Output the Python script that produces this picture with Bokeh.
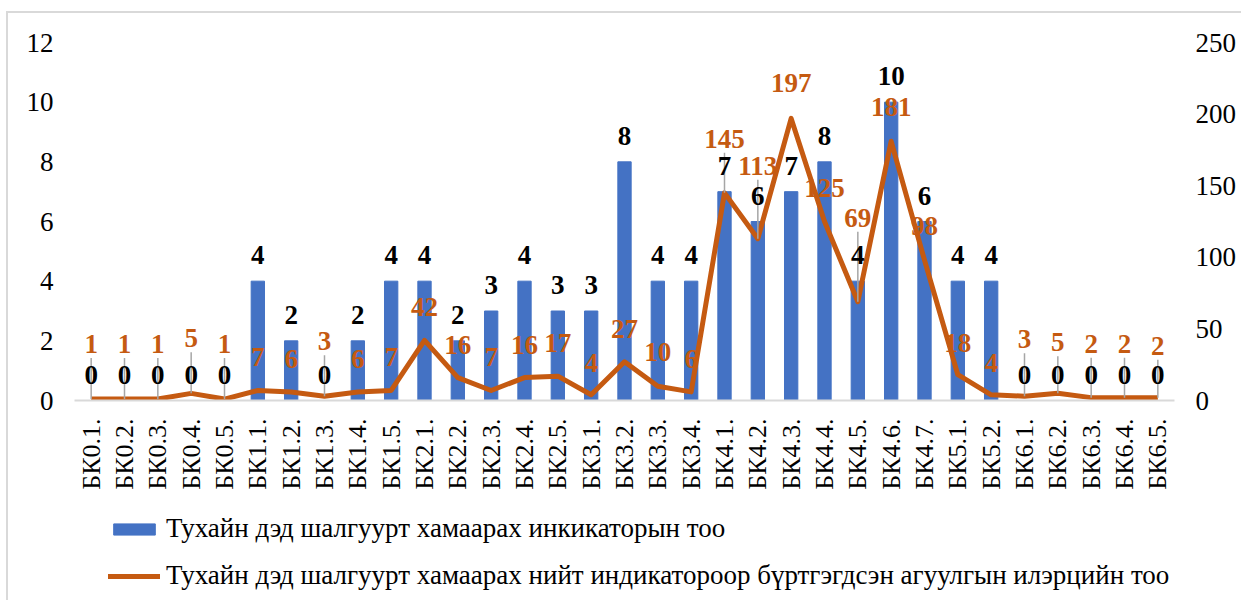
from bokeh.plotting import figure
from bokeh.layouts import column
from bokeh.models import (ColumnDataSource, FactorRange, Range1d, LinearAxis, FixedTicker,
                          LabelSet, Legend, LegendItem)
from bokeh.embed import file_html
from bokeh.resources import INLINE
import math

categories = ["БК0.1.", "БК0.2.", "БК0.3.", "БК0.4.", "БК0.5.",
              "БК1.1.", "БК1.2.", "БК1.3.", "БК1.4.", "БК1.5.",
              "БК2.1.", "БК2.2.", "БК2.3.", "БК2.4.", "БК2.5.",
              "БК3.1.", "БК3.2.", "БК3.3.", "БК3.4.",
              "БК4.1.", "БК4.2.", "БК4.3.", "БК4.4.", "БК4.5.", "БК4.6.", "БК4.7.",
              "БК5.1.", "БК5.2.",
              "БК6.1.", "БК6.2.", "БК6.3.", "БК6.4.", "БК6.5."]
indicators = [0, 0, 0, 0, 0,
              4, 2, 0, 2, 4,
              4, 2, 3, 4, 3,
              3, 8, 4, 4,
              7, 6, 7, 8, 4, 10, 6,
              4, 4,
              0, 0, 0, 0, 0]
findings = [1, 1, 1, 5, 1,
            7, 6, 3, 6, 7,
            42, 16, 7, 16, 17,
            4, 27, 10, 6,
            145, 113, 197, 125, 69, 181, 98,
            18, 4,
            3, 5, 2, 2, 2]
left_ticks = [0, 2, 4, 6, 8, 10, 12]
right_ticks = [0, 50, 100, 150, 200, 250]
bar_name = "Тухайн дэд шалгуурт хамаарах инкикаторын тоо"
line_name = "Тухайн дэд шалгуурт хамаарах нийт индикатороор бүртгэгдсэн агуулгын илэрцийн тоо"

# label placement (screen px above the point), style only
line_label_dy = [55, 55, 55, 55, 55,
                 33, 33, 55, 33, 33,
                 33, 33, 33, 33, 33,
                 32, 33, 34, 33,
                 54, 73, 35, 34, 84, 34, 34,
                 32, 32,
                 57, 51, 54, 54, 52]
BAR_DY = 26
FRAME_H = 358
R_MAX = 250

BLUE = "#4472C4"
ORANGE = "#C55A11"
FONT = "Liberation Serif"

src = ColumnDataSource(dict(
    cat=categories,
    ind=indicators,
    fnd=findings,
    ind_txt=[str(v) for v in indicators],
    fnd_txt=[str(v) for v in findings],
    fnd_dy=line_label_dy,
    bar_dy=[BAR_DY] * len(categories),
))

# leader lines for labels that were pushed away from their points
lead_x, lead_y0, lead_y1 = [], [], []
for c, v, dy in zip(categories, findings, line_label_dy):
    if dy > 45:
        lead_x.append(c)
        lead_y0.append(v)
        lead_y1.append(v + (dy - 14) * R_MAX / FRAME_H)
lead_src = ColumnDataSource(dict(x=lead_x, y0=lead_y0, y1=lead_y1))

p = figure(width=1233, height=487, x_range=FactorRange(*categories),
           y_range=Range1d(0, 12), output_backend="svg", toolbar_location=None,
           min_border_left=66, min_border_right=67, min_border_top=29, min_border_bottom=100)
p.extra_y_ranges = {"r": Range1d(0, R_MAX)}
p.outline_line_color = None
p.xgrid.grid_line_color = None
p.ygrid.grid_line_color = None
p.background_fill_color = "white"
p.border_fill_color = "white"

bars = p.vbar(x="cat", top="ind", width=0.4, source=src, fill_color=BLUE, line_color=BLUE)
line = p.line(x="cat", y="fnd", source=src, y_range_name="r", line_color=ORANGE,
              line_width=5, line_join="round")
p.segment(x0="x", y0="y0", x1="x", y1="y1", source=lead_src, y_range_name="r",
          line_color="#a6a6a6", line_width=1.5)

# axes
p.xaxis.axis_line_color = "#d9d9d9"
p.xaxis.axis_line_width = 2
p.xaxis.major_tick_line_color = None
p.xaxis.minor_tick_line_color = None
p.xaxis.major_label_orientation = math.pi / 2
p.xaxis.major_label_text_font = FONT
p.xaxis.major_label_text_font_size = "26px"
p.xaxis.major_label_text_color = "black"
p.xaxis.major_label_standoff = 12

p.yaxis.ticker = FixedTicker(ticks=left_ticks)
p.yaxis.axis_line_color = None
p.yaxis.major_tick_line_color = None
p.yaxis.minor_tick_line_color = None
p.yaxis.major_label_text_font = FONT
p.yaxis.major_label_text_font_size = "27px"
p.yaxis.major_label_text_color = "black"
p.yaxis.major_label_standoff = 15

ra = LinearAxis(y_range_name="r", ticker=FixedTicker(ticks=right_ticks))
ra.axis_line_color = None
ra.major_tick_line_color = None
ra.minor_tick_line_color = None
ra.major_label_text_font = FONT
ra.major_label_text_font_size = "27px"
ra.major_label_text_color = "black"
ra.major_label_standoff = 15
p.add_layout(ra, "right")

# data labels
p.add_layout(LabelSet(x="cat", y="ind", text="ind_txt", source=src, y_offset="bar_dy",
                      text_align="center", text_baseline="middle", text_font=FONT,
                      text_font_size="27px", text_font_style="bold", text_color="black"))
p.add_layout(LabelSet(x="cat", y="fnd", text="fnd_txt", source=src, y_range_name="r",
                      y_offset="fnd_dy", text_align="center", text_baseline="middle",
                      text_font=FONT, text_font_size="27px", text_font_style="bold",
                      text_color=ORANGE))

# legend panel below the chart (its frame is aligned with the chart's frame)
q = figure(width=1233, height=100, x_range=Range1d(0, 1), y_range=Range1d(0, 1),
           output_backend="svg", toolbar_location=None,
           min_border_left=0, min_border_right=0, min_border_top=0, min_border_bottom=0)
q.axis.visible = False
q.xgrid.grid_line_color = None
q.ygrid.grid_line_color = None
q.outline_line_color = None
lg_bar = q.vbar(x=[-10], top=[-5], bottom=[-5], width=0.01, fill_color=BLUE, line_color=BLUE)
lg_line = q.line(x=[-10, -9], y=[-5, -5], line_color=ORANGE, line_width=5, line_cap="round")
legend = Legend(items=[LegendItem(label=bar_name, renderers=[lg_bar]),
                       LegendItem(label=line_name, renderers=[lg_line])],
                location=(34, 9), orientation="vertical",
                label_text_font=FONT, label_text_font_size="27px", label_text_color="black",
                glyph_width=52, glyph_height=14, label_standoff=6, spacing=16,
                padding=0, margin=0, border_line_color=None, background_fill_alpha=0)
q.add_layout(legend, "center")

layout = column(p, q, spacing=0)
layout.styles = {"margin-left": "6px", "margin-top": "11px",
                 "border-left": "2px solid #d9d9d9", "border-top": "2px solid #d9d9d9"}

open("out.html", "w").write(file_html(layout, INLINE))
